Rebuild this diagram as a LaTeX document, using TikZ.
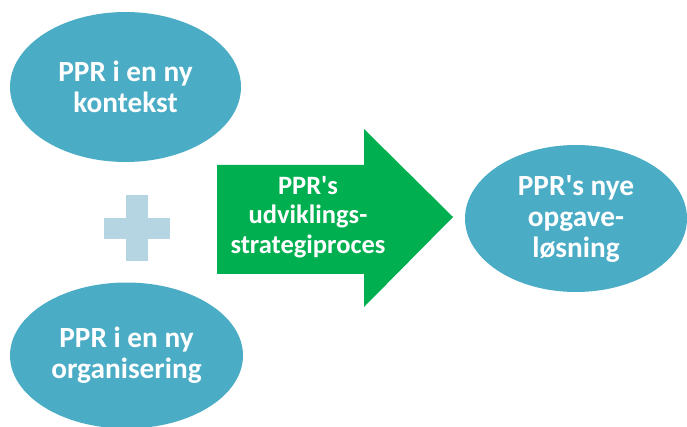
\documentclass[tikz,border=0pt]{standalone}
\usepackage{fontspec}
\setmainfont{Carlito}
\usepackage{tikz}
\usetikzlibrary{shapes}
\definecolor{ovalblue}{HTML}{4BACC6}
\definecolor{plusblue}{HTML}{B4D5E1}
\definecolor{arrowgreen}{HTML}{00B050}
\newcommand{\apos}{\textquotesingle}

\begin{document}
\begin{tikzpicture}[x=1pt,y=-1pt,
    oval/.style={ellipse,fill=ovalblue,text=white,inner sep=0pt,align=center,font=\fontsize{29.3}{31}\selectfont\bfseries},
    pilteks/.style={text=white,inner sep=0pt,align=center,font=\fontsize{26.5}{29.5}\selectfont\bfseries}]
		\useasboundingbox (0,0) rectangle (687,427);
		%ovaler
		\node[oval,minimum width=231pt,minimum height=150pt] (kontekst) at (125.5,87) {PPR i en ny\\kontekst};
		\node[oval,minimum width=233pt,minimum height=146pt] (organisering) at (126.5,355.5) {PPR i en ny\\organisering};
		\node[oval,minimum width=222pt,minimum height=147pt] (opgave) at (576,218.5) {PPR\apos s nye\\opgave-\\løsning};
		%plus
		\fill[plusblue] (126,195) rectangle (148,261);
		\fill[plusblue] (104,218) rectangle (170,239);
		%pil
		\fill[arrowgreen] (217,165) -- (364,165) -- (364,129) -- (453,217) -- (364,307) -- (364,274) -- (217,274) -- cycle;
		\node[pilteks] (proces) at (308,217) {PPR\apos s\\udviklings-\\strategiproces};
	\end{tikzpicture}
\end{document}
